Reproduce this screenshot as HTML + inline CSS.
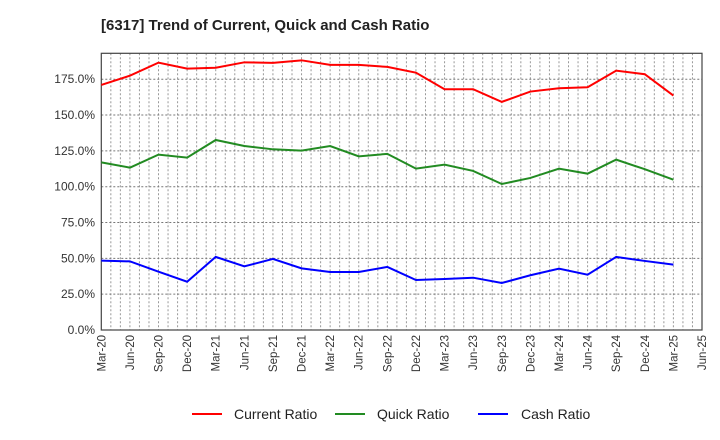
<!DOCTYPE html>
<html><head><meta charset="utf-8"><style>
body{margin:0;background:#fff;font-family:"Liberation Sans",sans-serif;}
svg{display:block}
</style></head><body>
<svg id="chart" width="720" height="440">
<text x="101" y="30" font-size="15" font-weight="bold" fill="#222">[6317]  Trend of Current, Quick and Cash Ratio</text>
<g id="grid"></g><g id="axes"></g><g id="series"></g>
<g>
<line x1="192" y1="414" x2="222" y2="414" stroke="#ff0000" stroke-width="2"/>
<text x="234" y="419" font-size="14" fill="#222">Current Ratio</text>
<line x1="335" y1="414" x2="365" y2="414" stroke="#228b22" stroke-width="2"/>
<text x="377" y="419" font-size="14" fill="#222">Quick Ratio</text>
<line x1="478" y1="414" x2="508" y2="414" stroke="#0000ff" stroke-width="2"/>
<text x="521" y="419" font-size="14" fill="#222">Cash Ratio</text>
</g>
</svg>
<script>
const categories=["Mar-20","Jun-20","Sep-20","Dec-20","Mar-21","Jun-21","Sep-21","Dec-21","Mar-22","Jun-22","Sep-22","Dec-22","Mar-23","Jun-23","Sep-23","Dec-23","Mar-24","Jun-24","Sep-24","Dec-24","Mar-25","Jun-25"];
const currentRatio=[171,177.5,186.6,182.4,183,186.8,186.4,188.2,185,185,183.6,179.6,168,168,159.2,166.4,168.7,169.4,181,178.5,163.6];
const quickRatio=[117,113.3,122.4,120.3,132.6,128.4,126.1,125.2,128.4,121.2,122.9,112.6,115.4,111,101.9,106.1,112.6,109.1,118.9,112.2,104.9];
const cashRatio=[48.4,47.9,40.7,33.7,51,44.4,49.6,43,40.5,40.5,44,34.9,35.6,36.5,32.8,38.2,42.8,38.6,51,48.2,45.6];
const yTicks=[0,25,50,75,100,125,150,175];
const L=101.3,R=702,T=53.3,B=330,YMAX=193.1;
const NS="http://www.w3.org/2000/svg";
function xq(i){return L+(R-L)*i/(categories.length-1);}
function xm(m){return L+(R-L)*m/((categories.length-1)*3);}
function y(v){return B-(B-T)*v/YMAX;}
function mk(tag,attrs,parent){const e=document.createElementNS(NS,tag);for(const k in attrs)e.setAttribute(k,attrs[k]);parent.appendChild(e);return e;}
const grid=document.getElementById('grid'),axes=document.getElementById('axes'),ser=document.getElementById('series');
for(let m=1;m<(categories.length-1)*3;m++){
 const l=mk('line',{x1:xm(m),x2:xm(m),y1:T,y2:B,stroke:'#999','stroke-width':1,'stroke-dasharray':'2,2'},grid);
 
 
}
yTicks.forEach(v=>{
 if(v>0){const l=mk('line',{x1:L,x2:R,y1:y(v),y2:y(v),stroke:'#777','stroke-width':1,'stroke-dasharray':'2,2'},grid);
 
 }
 const t=mk('text',{x:95,y:y(v)+4,'font-size':12,'text-anchor':'end',fill:'#333'},axes);
 t.textContent=v.toFixed(1)+'%';
 
 
});
categories.forEach((c,i)=>{
 const x=xq(i);
 const t=mk('text',{x:0,y:0,'font-size':11.5,'text-anchor':'end',fill:'#333',transform:`translate(${x+4},${B+5}) rotate(-90)`},axes);
 t.textContent=c;
 
 
});
const fr=mk('rect',{x:L,y:T,width:R-L,height:B-T,fill:'none',stroke:'#444','stroke-width':1.2},axes);


[[currentRatio,'#ff0000','current-ratio-line'],[quickRatio,'#228b22','quick-ratio-line'],[cashRatio,'#0000ff','cash-ratio-line']].forEach(([d,c,n])=>{
 const p=mk('polyline',{points:d.map((v,i)=>xq(i)+','+y(v)).join(' '),fill:'none',stroke:c,'stroke-width':2},ser);
 
 
});
</script>
</body></html>
